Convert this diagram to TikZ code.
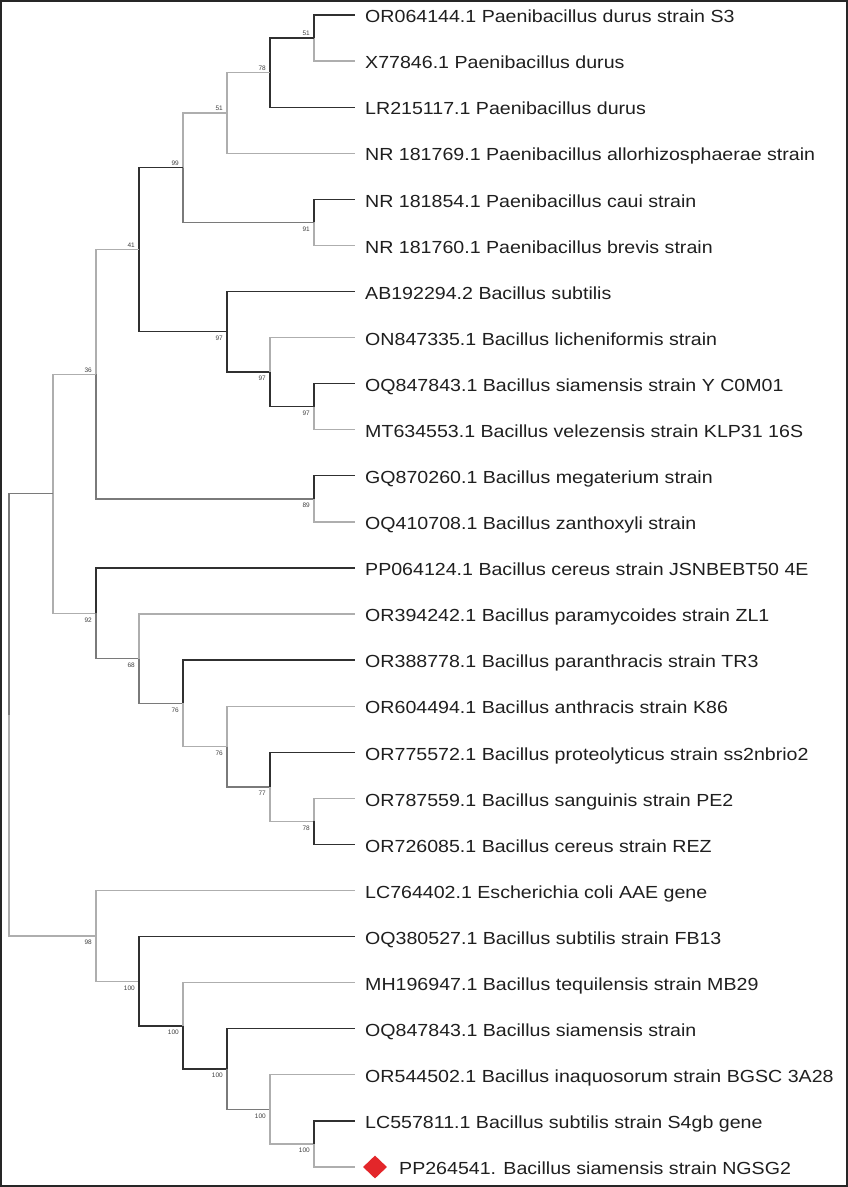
\documentclass[tikz,border=0pt]{standalone}
\usepackage{fontspec}
\setmainfont{Liberation Sans}
\newfontfamily\leaffont{Liberation Sans}[FakeStretch=1.12]
\usetikzlibrary{shapes.geometric}
\definecolor{dk}{HTML}{303030}
\definecolor{md}{HTML}{7A7A7A}
\definecolor{lt}{HTML}{AEAEAE}
\definecolor{mark}{HTML}{E3262A}
\begin{document}
\begin{tikzpicture}[x=1pt,y=-1pt,
  br/.style={line width=1.3pt},
  dark/.style={br,draw=dk},
  mid/.style={br,draw=md},
  light/.style={br,draw=lt},
  leaf/.style={anchor=west,inner xsep=10pt,inner ysep=0pt,text height=15.4pt,text depth=0pt,
    font=\leaffont\fontsize{17.5}{20}\selectfont,text=black!88},
  bs/.style={inner sep=0pt,font=\fontsize{6.5}{7}\selectfont,text=black!75},
  bsa/.style={bs,anchor=south east,xshift=-4pt,yshift=2pt},
  bsb/.style={bs,anchor=north east,xshift=-4pt,yshift=-4pt}]
\useasboundingbox (0,0) rectangle (848,1187);
\fill[white] (0,0) rectangle (848,1187);
\draw[line width=2pt,draw=black!85] (1,1) rectangle (847,1186);

% leaves
\node[leaf] (l1) at (355,15) {OR064144.1 Paenibacillus durus strain S3};
\node[leaf] (l2) at (355,61.1) {X77846.1 Paenibacillus durus};
\node[leaf] (l3) at (355,107.2) {LR215117.1 Paenibacillus durus};
\node[leaf] (l4) at (355,153.2) {NR 181769.1 Paenibacillus allorhizosphaerae strain};
\node[leaf] (l5) at (355,199.3) {NR 181854.1 Paenibacillus caui strain};
\node[leaf] (l6) at (355,245.4) {NR 181760.1 Paenibacillus brevis strain};
\node[leaf] (l7) at (355,291.5) {AB192294.2 Bacillus subtilis};
\node[leaf] (l8) at (355,337.6) {ON847335.1 Bacillus licheniformis strain};
\node[leaf] (l9) at (355,383.6) {OQ847843.1 Bacillus siamensis strain Y C0M01};
\node[leaf] (l10) at (355,429.7) {MT634553.1 Bacillus velezensis strain KLP31 16S};
\node[leaf] (l11) at (355,475.8) {GQ870260.1 Bacillus megaterium strain};
\node[leaf] (l12) at (355,521.9) {OQ410708.1 Bacillus zanthoxyli strain};
\node[leaf] (l13) at (355,568.0) {PP064124.1 Bacillus cereus strain JSNBEBT50 4E};
\node[leaf] (l14) at (355,614.0) {OR394242.1 Bacillus paramycoides strain ZL1};
\node[leaf] (l15) at (355,660.1) {OR388778.1 Bacillus paranthracis strain TR3};
\node[leaf] (l16) at (355,706.2) {OR604494.1 Bacillus anthracis strain K86};
\node[leaf] (l17) at (355,752.3) {OR775572.1 Bacillus proteolyticus strain ss2nbrio2};
\node[leaf] (l18) at (355,798.4) {OR787559.1 Bacillus sanguinis strain PE2};
\node[leaf] (l19) at (355,844.4) {OR726085.1 Bacillus cereus strain REZ};
\node[leaf] (l20) at (355,890.5) {LC764402.1 Escherichia coli AAE gene};
\node[leaf] (l21) at (355,936.6) {OQ380527.1 Bacillus subtilis strain FB13};
\node[leaf] (l22) at (355,982.7) {MH196947.1 Bacillus tequilensis strain MB29};
\node[leaf] (l23) at (355,1028.8) {OQ847843.1 Bacillus siamensis strain};
\node[leaf] (l24) at (355,1074.8) {OR544502.1 Bacillus inaquosorum strain BGSC 3A28};
\node[leaf] (l25) at (355,1120.9) {LC557811.1 Bacillus subtilis strain S4gb gene};
\node[diamond,fill=mark,inner sep=0pt,minimum width=24pt,minimum height=23pt] (dm) at (375,1167) {};
\node[leaf,inner xsep=0pt] (l26) at (399,1167) {PP264541. Bacillus siamensis strain NGSG2};

% internal nodes
\coordinate (A) at (314,38.05);
\coordinate (B) at (270,72.6);
\coordinate (C) at (227,112.9);
\coordinate (D) at (314,222.35);
\coordinate (E) at (183,167.6);
\coordinate (F) at (314,406.65);
\coordinate (G) at (270,372.1);
\coordinate (H) at (227,331.8);
\coordinate (I) at (139,249.7);
\coordinate (J) at (314,498.85);
\coordinate (K) at (96,374.3);
\coordinate (L) at (314,821.4);
\coordinate (M) at (270,786.85);
\coordinate (N) at (227,746.5);
\coordinate (O) at (183,703.3);
\coordinate (P) at (139,658.65);
\coordinate (Q) at (96,613.3);
\coordinate (R) at (53,493.8);
\coordinate (S) at (314,1143.95);
\coordinate (T) at (270,1109.4);
\coordinate (U) at (227,1069.1);
\coordinate (V) at (183,1025.9);
\coordinate (W) at (139,981.3);
\coordinate (X) at (96,935.9);
\coordinate (root) at (9,714.85);

% branches
\draw[dark] (A) |- (l1.west);
\draw[light] (A) |- (l2.west);
\draw[dark] (B) |- (A);
\draw[dark] (B) |- (l3.west);
\draw[light] (C) |- (B);
\draw[light] (C) |- (l4.west);
\draw[dark] (D) |- (l5.west);
\draw[light] (D) |- (l6.west);
\draw[light] (E) |- (C);
\draw[mid] (E) |- (D);
\draw[dark] (I) |- (E);
\draw[dark] (I) |- (H);
\draw[dark] (H) |- (l7.west);
\draw[dark] (H) |- (G);
\draw[light] (G) |- (l8.west);
\draw[dark] (G) |- (F);
\draw[dark] (F) |- (l9.west);
\draw[light] (F) |- (l10.west);
\draw[light] (K) |- (I);
\draw[mid] (K) |- (J);
\draw[dark] (J) |- (l11.west);
\draw[light] (J) |- (l12.west);
\draw[light] (R) |- (K);
\draw[light] (R) |- (Q);
\draw[dark] (Q) |- (l13.west);
\draw[mid] (Q) |- (P);
\draw[light] (P) |- (l14.west);
\draw[mid] (P) |- (O);
\draw[dark] (O) |- (l15.west);
\draw[light] (O) |- (N);
\draw[light] (N) |- (l16.west);
\draw[mid] (N) |- (M);
\draw[dark] (M) |- (l17.west);
\draw[light] (M) |- (L);
\draw[light] (L) |- (l18.west);
\draw[dark] (L) |- (l19.west);
\draw[mid] (root) |- (R);
\draw[light] (root) |- (X);
\draw[light] (X) |- (l20.west);
\draw[light] (X) |- (W);
\draw[dark] (W) |- (l21.west);
\draw[dark] (W) |- (V);
\draw[light] (V) |- (l22.west);
\draw[dark] (V) |- (U);
\draw[dark] (U) |- (l23.west);
\draw[mid] (U) |- (T);
\draw[light] (T) |- (l24.west);
\draw[light] (T) |- (S);
\draw[dark] (S) |- (l25.west);
\draw[light,shorten >=8pt] (S) |- (dm.west);

% bootstrap values
\node[bsa] (bA) at (A) {51};
\node[bsa] (bB) at (B) {78};
\node[bsa] (bC) at (C) {51};
\node[bsb] (bD) at (D) {91};
\node[bsa] (bE) at (E) {99};
\node[bsb] (bF) at (F) {97};
\node[bsb] (bG) at (G) {97};
\node[bsb] (bH) at (H) {97};
\node[bsa] (bI) at (I) {41};
\node[bsb] (bJ) at (J) {89};
\node[bsa] (bK) at (K) {36};
\node[bsb] (bL) at (L) {78};
\node[bsb] (bM) at (M) {77};
\node[bsb] (bN) at (N) {76};
\node[bsb] (bO) at (O) {76};
\node[bsb] (bP) at (P) {68};
\node[bsb] (bQ) at (Q) {92};
\node[bsb] (bS) at (S) {100};
\node[bsb] (bT) at (T) {100};
\node[bsb] (bU) at (U) {100};
\node[bsb] (bV) at (V) {100};
\node[bsb] (bW) at (W) {100};
\node[bsb] (bX) at (X) {98};
\end{tikzpicture}
\end{document}
